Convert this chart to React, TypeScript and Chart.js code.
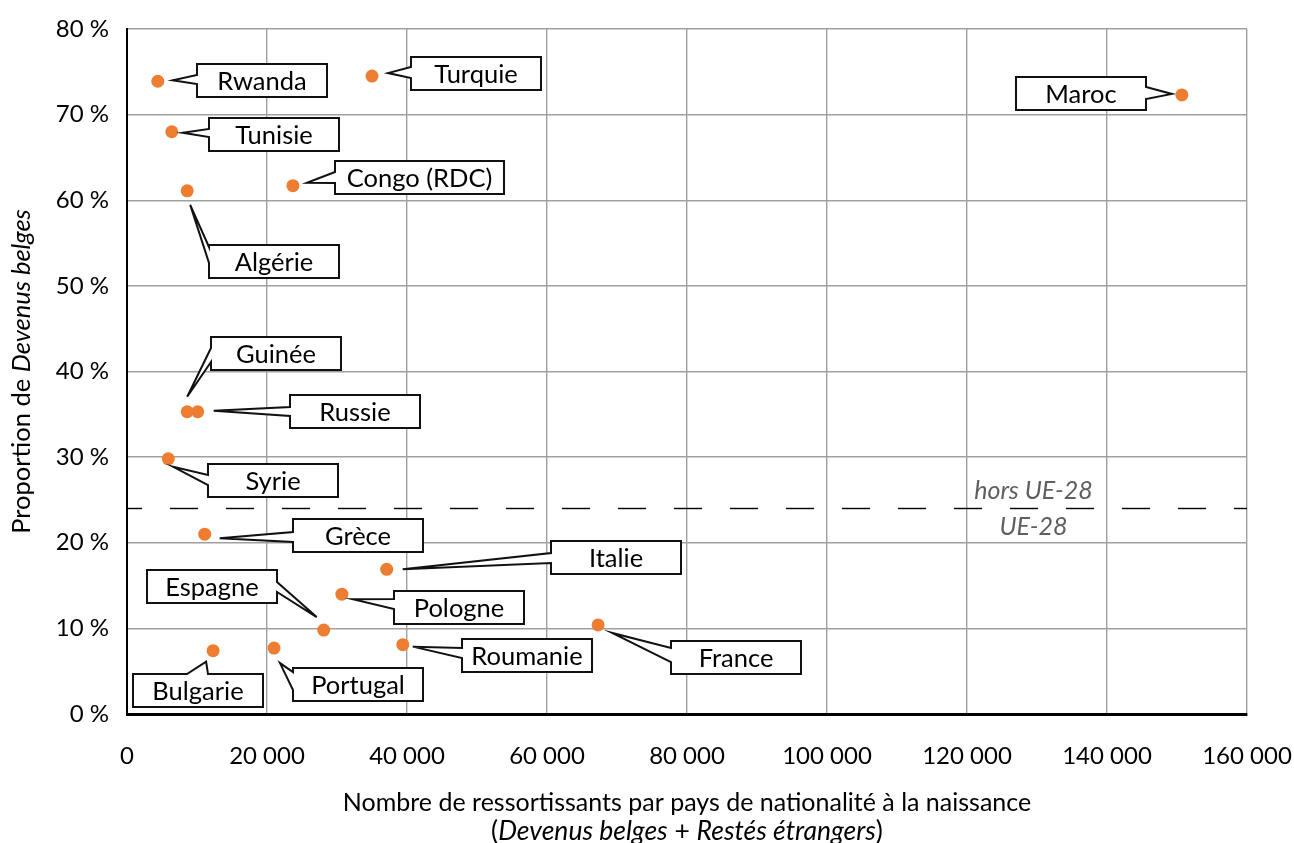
import React, { useEffect, useRef } from 'react';
import { Chart, registerables } from 'chart.js';

Chart.register(...registerables);

// ---- data ----
const countries = ['Rwanda', 'Turquie', 'Maroc', 'Tunisie', 'Congo (RDC)', 'Algérie', 'Guinée', 'Russie', 'Syrie', 'Grèce', 'Italie', 'Pologne', 'Espagne', 'France', 'Bulgarie', 'Portugal', 'Roumanie'];
const totals = [4400, 35000, 150700, 6400, 23700, 8600, 8600, 10100, 5900, 11100, 37100, 30700, 28100, 67300, 12300, 21000, 39400];
const shares = [73.9, 74.5, 72.3, 68.0, 61.7, 61.1, 35.3, 35.3, 29.8, 21.0, 16.9, 14.0, 9.8, 10.4, 7.4, 7.7, 8.1];
const xTicks = [0, 20000, 40000, 60000, 80000, 100000, 120000, 140000, 160000];
const yTicks = [0, 10, 20, 30, 40, 50, 60, 70, 80];
const euThreshold = 24;
const aboveLabel = 'hors UE-28';
const belowLabel = 'UE-28';

// ---- callout layout (pixel offsets relative to each point) ----
type Callout = { bx: number; by: number; bw: number; tx: number; ty: number; side: 'left' | 'right' | 'top'; b1: number; b2: number };
const callouts: Callout[] = [
  { bx: 39, by: -17, bw: 130, tx: 15, ty: -1, side: 'left', b1: 11, b2: 20 },
  { bx: 39, by: -19, bw: 130, tx: 16, ty: -3, side: 'left', b1: 10, b2: 21 },
  { bx: -166, by: -18, bw: 130, tx: -10, ty: -1, side: 'right', b1: 10, b2: 22 },
  { bx: 37, by: -14, bw: 130, tx: 11, ty: 1, side: 'left', b1: 11, b2: 19 },
  { bx: 42, by: -25, bw: 169, tx: 14, ty: -3, side: 'left', b1: 11, b2: 22 },
  { bx: 22, by: 54, bw: 130, tx: 3, ty: 14, side: 'left', b1: 2, b2: 18 },
  { bx: 24, by: -75, bw: 130, tx: 0, ty: -15, side: 'left', b1: 11, b2: 25 },
  { bx: 92, by: -17, bw: 130, tx: 16, ty: -1, side: 'left', b1: 12, b2: 21 },
  { bx: 40, by: 5, bw: 130, tx: 5, ty: 8, side: 'left', b1: 11, b2: 21 },
  { bx: 88, by: -15, bw: 130, tx: 15, ty: 4, side: 'left', b1: 13, b2: 23 },
  { bx: 164, by: -28, bw: 130, tx: 16, ty: 0, side: 'left', b1: 12, b2: 22 },
  { bx: 52, by: -3, bw: 130, tx: 11, ty: 5, side: 'left', b1: 8, b2: 18 },
  { bx: -177, by: -60, bw: 130, tx: -7, ty: -13, side: 'right', b1: 12, b2: 22 },
  { bx: 73, by: 16, bw: 130, tx: 14, ty: 8, side: 'left', b1: 7, b2: 21 },
  { bx: -80, by: 23, bw: 130, tx: -7, ty: 11, side: 'top', b1: 54, b2: 75 },
  { bx: 19, by: 20, bw: 130, tx: 6, ty: 15, side: 'left', b1: 4, b2: 22 },
  { bx: 59, by: -6, bw: 130, tx: 10, ty: 2, side: 'left', b1: 9, b2: 19 },
];
const BOX_H = 33;
const FONT = 'Lato';

const fmtThousands = (v: number) => {
  const s = String(Math.round(v));
  return s.replace(/\B(?=(\d{3})+(?!\d))/g, ' ');
};

function drawSegments(ctx: CanvasRenderingContext2D, segs: [string, boolean][], cx: number, cy: number, size: number) {
  let total = 0;
  const widths = segs.map(([t, it]) => {
    ctx.font = `${it ? 'italic ' : ''}${size}px ${FONT}`;
    const w = ctx.measureText(t).width;
    total += w;
    return w;
  });
  let x = cx - total / 2;
  ctx.textAlign = 'left';
  ctx.textBaseline = 'middle';
  segs.forEach(([t, it], i) => {
    ctx.font = `${it ? 'italic ' : ''}${size}px ${FONT}`;
    ctx.fillText(t, x, cy);
    x += widths[i];
  });
}

const calloutPlugin = {
  id: 'callouts',
  afterDatasetsDraw(chart: any) {
    const ctx: CanvasRenderingContext2D = chart.ctx;
    const meta = chart.getDatasetMeta(1);
    ctx.save();
    meta.data.forEach((pt: any, i: number) => {
      const c = callouts[i];
      if (!c) return;
      const px = pt.x, py = pt.y;
      const L = Math.round(px + c.bx), T = Math.round(py + c.by);
      const R = L + c.bw, B = T + BOX_H;
      const tx = px + c.tx, ty = py + c.ty;
      ctx.beginPath();
      if (c.side === 'left') {
        ctx.moveTo(L, T); ctx.lineTo(R, T); ctx.lineTo(R, B); ctx.lineTo(L, B);
        ctx.lineTo(L, T + c.b2); ctx.lineTo(tx, ty); ctx.lineTo(L, T + c.b1);
      } else if (c.side === 'right') {
        ctx.moveTo(L, T); ctx.lineTo(R, T); ctx.lineTo(R, T + c.b1); ctx.lineTo(tx, ty);
        ctx.lineTo(R, T + c.b2); ctx.lineTo(R, B); ctx.lineTo(L, B);
      } else {
        ctx.moveTo(L, T); ctx.lineTo(L + c.b1, T); ctx.lineTo(tx, ty); ctx.lineTo(L + c.b2, T);
        ctx.lineTo(R, T); ctx.lineTo(R, B); ctx.lineTo(L, B);
      }
      ctx.closePath();
      ctx.fillStyle = '#ffffff';
      ctx.fill();
      ctx.lineWidth = 2;
      ctx.strokeStyle = '#111111';
      ctx.lineJoin = 'miter';
      ctx.stroke();
      ctx.fillStyle = '#000000';
      ctx.font = `25.5px ${FONT}`;
      ctx.textAlign = 'center';
      ctx.textBaseline = 'middle';
      ctx.fillText(countries[i], (L + R) / 2, (T + B) / 2 + 1);
    });
    ctx.restore();
  },
  afterDraw(chart: any) {
    const ctx: CanvasRenderingContext2D = chart.ctx;
    const xs = chart.scales.x, ys = chart.scales.y;
    const area = chart.chartArea;
    ctx.save();
    // threshold labels
    ctx.fillStyle = '#5f5f5f';
    const lx = xs.getPixelForValue(129500);
    const ly = ys.getPixelForValue(euThreshold);
    drawSegments(ctx, [[aboveLabel, true]], lx, ly - 18, 25);
    drawSegments(ctx, [[belowLabel, true]], lx, ly + 18, 25);
    // x title
    ctx.fillStyle = '#000000';
    const cx = (area.left + area.right) / 2;
    drawSegments(ctx, [['Nombre de ressortissants par pays de nationalité à la naissance', false]], cx, 803, 25);
    drawSegments(ctx, [['(', false], ['Devenus belges', true], [' + ', false], ['Restés étrangers', true], [')', false]], cx, 831, 26.5);
    // y title
    ctx.translate(22, (area.top + area.bottom) / 2);
    ctx.rotate(-Math.PI / 2);
    drawSegments(ctx, [['Proportion de ', false], ['Devenus belges', true]], 0, 0, 25.5);
    ctx.restore();
  },
};

export default function App() {
  const ref = useRef<HTMLCanvasElement | null>(null);
  useEffect(() => {
    if (!ref.current) return;
    const points = totals.map((x, i) => ({ x, y: shares[i] }));
    const chart = new Chart(ref.current, {
      type: 'scatter',
      data: {
        datasets: [
          {
            type: 'line',
            data: [{ x: xTicks[0], y: euThreshold }, { x: xTicks[xTicks.length - 1], y: euThreshold }],
            borderColor: '#000000',
            borderWidth: 1.4,
            borderDash: [28, 28],
            borderDashOffset: 13,
            pointRadius: 0,
            fill: false,
          } as any,
          {
            data: points,
            backgroundColor: '#ED7D31',
            borderWidth: 0,
            pointRadius: 6.5,
            pointHoverRadius: 6.5,
          },
        ],
      },
      options: {
        responsive: false,
        animation: false,
        events: [],
        layout: { padding: { top: 29, right: 47, left: 0, bottom: 0 } },
        plugins: { legend: { display: false }, tooltip: { enabled: false } },
        scales: {
          x: {
            type: 'linear',
            min: xTicks[0],
            max: xTicks[xTicks.length - 1],
            afterBuildTicks: (s: any) => { s.ticks = xTicks.map((v) => ({ value: v })); },
            afterFit: (s: any) => { s.height = 129; s.paddingLeft = 0; s.paddingRight = 0; },
            grid: { color: '#a0a0a0', lineWidth: 1.4, drawTicks: false },
            border: { color: '#000000', width: 3 },
            ticks: {
              padding: 28,
              color: '#000000',
              font: { family: FONT, size: 24 },
              maxRotation: 0,
              callback: (v: any) => fmtThousands(Number(v)),
            },
          },
          y: {
            type: 'linear',
            min: yTicks[0],
            max: yTicks[yTicks.length - 1],
            afterBuildTicks: (s: any) => { s.ticks = yTicks.map((v) => ({ value: v })); },
            afterFit: (s: any) => { s.width = 127; s.paddingTop = 0; s.paddingBottom = 0; },
            grid: { color: '#a0a0a0', lineWidth: 1.4, drawTicks: false },
            border: { color: '#000000', width: 2 },
            ticks: {
              padding: 18,
              color: '#000000',
              font: { family: FONT, size: 24 },
              callback: (v: any) => `${v} %`,
            },
          },
        },
      },
      plugins: [calloutPlugin],
    });
    return () => chart.destroy();
  }, []);
  return (
    <div style={{ position: 'absolute', left: 0, top: 0, width: 1294, height: 843, background: '#fff' }}>
      <canvas ref={ref} width={1294} height={843} style={{ display: 'block' }} />
    </div>
  );
}
